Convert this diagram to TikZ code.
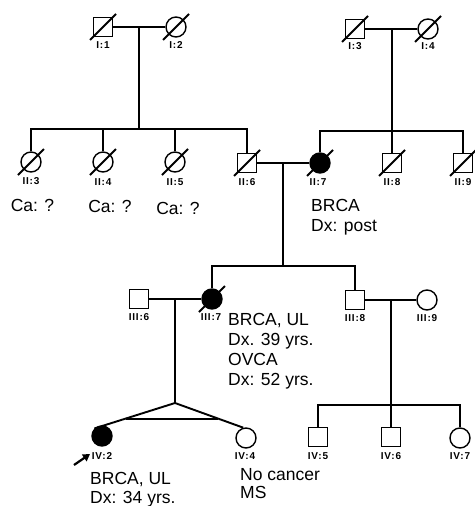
\documentclass[tikz,border=0pt]{standalone}
\usepackage{fontspec}
\setmainfont{Liberation Sans}
\newfontfamily\pedlblfont[LetterSpace=8]{Liberation Sans}
\usetikzlibrary{arrows.meta}
\begin{document}
\begin{tikzpicture}[x=1pt,y=-1pt,
  male/.style={draw, rectangle, minimum size=19pt, inner sep=0pt, line width=1.4pt, fill=white},
  female/.style={draw, circle, minimum size=20pt, inner sep=0pt, line width=1.4pt, fill=white},
  aff/.style={fill=black},
  lnk/.style={line width=1.9pt},
  slashln/.style={line width=1.8pt},
  lbl/.style={font=\pedlblfont\fontsize{10}{10}\selectfont\bfseries, inner sep=0pt},
  ann/.style={font=\fontsize{17.5}{20}\selectfont, inner sep=0pt, anchor=base west},
  cann/.style={font=\fontsize{17.5}{20}\selectfont, inner sep=0pt, anchor=base}]
\useasboundingbox (0,0) rectangle (474,506);
% generation I
\node[male] (I1) at (103,27) {};
\node[female] (I2) at (176,27) {};
\node[male] (I3) at (355,29) {};
\node[female] (I4) at (428,29) {};
% generation II
\node[female] (II3) at (31,162) {};
\node[female] (II4) at (103,162) {};
\node[female] (II5) at (175,162) {};
\node[male] (II6) at (247,163) {};
\node[female,aff] (II7) at (320,163) {};
\node[male] (II8) at (392,163) {};
\node[male] (II9) at (463,163) {};
% generation III
\node[male] (III6) at (139,299) {};
\node[female,aff] (III7) at (212,299) {};
\node[male] (III8) at (355,300) {};
\node[female] (III9) at (427,300) {};
% generation IV
\node[female,aff] (IV2) at (102,436) {};
\node[female] (IV4) at (246,438) {};
\node[male] (IV5) at (318,437) {};
\node[male] (IV6) at (391,437) {};
\node[female] (IV7) at (460,438) {};
% coordinates
\coordinate (m1) at (139,27);
\coordinate (s1) at (139,129);
\coordinate (m2) at (392,29);
\coordinate (s2) at (392,131);
\coordinate (m3) at (283,163);
\coordinate (s3) at (283,266);
\coordinate (m4) at (175,299);
\coordinate (apex) at (175,403);
\coordinate (tl) at (126,419);
\coordinate (tr) at (218,419);
\coordinate (m5) at (391,300);
\coordinate (s5) at (391,405);
\coordinate (atail) at (74,465);
\coordinate (ahead) at (90,454);
% connectors
\draw[lnk] (I1) -- (I2);
\draw[lnk] (m1) -- (s1);
\draw[lnk] (II3.north) -- (II3.north |- s1) -- (II6.north |- s1) -- (II6.north);
\draw[lnk] (II4.north) -- (II4.north |- s1);
\draw[lnk] (II5.north) -- (II5.north |- s1);
\draw[lnk] (I3) -- (I4);
\draw[lnk] (m2) -- (s2);
\draw[lnk] (II7.north) -- (II7.north |- s2) -- (II9.north |- s2) -- (II9.north);
\draw[lnk] (II8.north) -- (II8.north |- s2);
\draw[lnk] (II6) -- (II7);
\draw[lnk] (m3) -- (s3);
\draw[lnk] (III7.north) -- (III7.north |- s3) -- (III8.north |- s3) -- (III8.north);
\draw[lnk] (III6) -- (III7);
\draw[lnk] (m4) -- (apex);
\draw[lnk] (IV2.135) -- (apex) -- (IV4.105);
\draw[lnk] (tl) -- (tr);
\draw[lnk] (III8) -- (III9);
\draw[lnk] (m5) -- (s5);
\draw[lnk] (IV5.north) -- (IV5.north |- s5) -- (IV7.north |- s5) -- (IV7.north);
\draw[lnk] (IV6.north) -- (IV6.north |- s5);
% deceased slashes
\foreach \n in {I1,I2,I3,I4,II3,II4,II5,II6,II7,II8,II9,III7}
  \draw[slashln] ([shift={(-13,13)}]\n.center) -- ([shift={(13,-13)}]\n.center);
% proband arrow
\draw[line width=2.2pt, -{Triangle[length=7pt,width=8pt]}] (atail) -- (ahead);
% labels
\node[lbl] (lI1) at (103,45) {I:1};
\node[lbl] (lI2) at (176,45) {I:2};
\node[lbl] (lI3) at (355,46) {I:3};
\node[lbl] (lI4) at (428,46) {I:4};
\node[lbl] (lII3) at (31,181) {II:3};
\node[lbl] (lII4) at (103,182) {II:4};
\node[lbl] (lII5) at (175,182) {II:5};
\node[lbl] (lII6) at (247,182) {II:6};
\node[lbl] (lII7) at (318,182) {II:7};
\node[lbl] (lII8) at (392,182) {II:8};
\node[lbl] (lII9) at (463,182) {II:9};
\node[lbl] (lIII6) at (139,317) {III:6};
\node[lbl] (lIII7) at (211,317) {III:7};
\node[lbl] (lIII8) at (355,318) {III:8};
\node[lbl] (lIII9) at (427,318) {III:9};
\node[lbl] (lIV2) at (102,456) {IV:2};
\node[lbl] (lIV4) at (245,456) {IV:4};
\node[lbl] (lIV5) at (318,456) {IV:5};
\node[lbl] (lIV6) at (391,456) {IV:6};
\node[lbl] (lIV7) at (460,456) {IV:7};
% annotations
\node[cann] (ca1) at (32.5,211) {Ca: ?};
\node[cann] (ca2) at (110,212.5) {Ca: ?};
\node[cann] (ca3) at (178,214) {Ca: ?};
\node[ann] (a1) at (311,211) {BRCA};
\node[ann] (a2) at (311,231) {Dx: post};
\node[ann] (b1) at (228,325) {BRCA, UL};
\node[ann] (b2) at (228,345) {Dx. 39 yrs.};
\node[ann] (b3) at (228,365) {OVCA};
\node[ann] (b4) at (228,385) {Dx: 52 yrs.};
\node[ann] (c1) at (90,484) {BRCA, UL};
\node[ann] (c2) at (90,503) {Dx: 34 yrs.};
\node[ann] (d1) at (240,480) {No cancer};
\node[ann] (d2) at (240,498) {MS};
\end{tikzpicture}
\end{document}
